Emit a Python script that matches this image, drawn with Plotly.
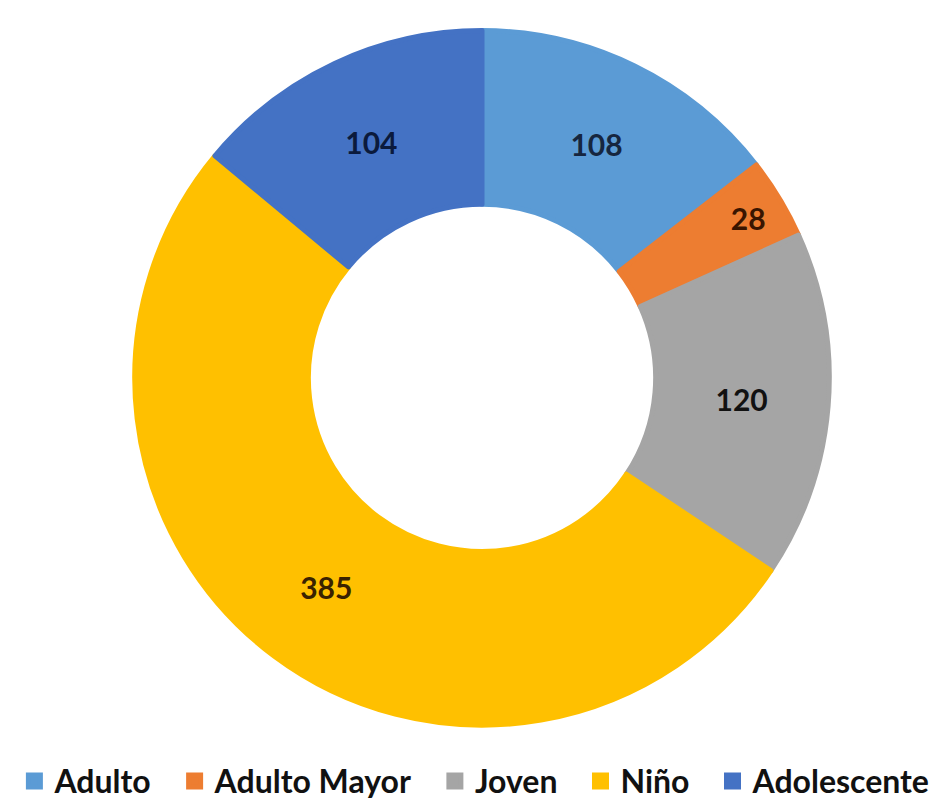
import plotly.graph_objects as go

categories = ["Adulto", "Adulto Mayor", "Joven", "Niño", "Adolescente"]
values = [108, 28, 120, 385, 104]
colors = ["#5B9BD5", "#ED7D31", "#A5A5A5", "#FFC000", "#4472C4"]
label_colors = ["#16263f", "#3a1500", "#111111", "#3a2200", "#0b1a3c"]

FONT = "Lato, 'Open Sans', sans-serif"

# legend labels padded with a little space so entries are spaced like the reference
legend_labels = [c + "\u2002\u200a" for c in categories]

fig = go.Figure(
    go.Pie(
        labels=legend_labels,
        values=values,
        hole=0.5,
        sort=False,
        direction="clockwise",
        rotation=0,
        marker=dict(colors=colors, line=dict(color=colors, width=5)),
        textinfo="value",
        textposition="inside",
        insidetextorientation="horizontal",
        textfont=dict(family=FONT, size=30, color=label_colors, weight="bold"),
        domain=dict(x=[0.1276, 0.8724], y=[0.0899, 0.9713]),
        hoverinfo="label+value",
    )
)

fig.update_layout(
    width=948,
    height=801,
    margin=dict(l=0, r=0, t=0, b=0),
    paper_bgcolor="white",
    plot_bgcolor="white",
    uniformtext=dict(minsize=30, mode="show"),
    showlegend=True,
    legend=dict(
        orientation="h",
        x=0.502,
        xanchor="center",
        y=-0.016,
        yanchor="bottom",
        font=dict(family=FONT, size=32, color="#111111", weight="bold"),
        itemwidth=30,
        traceorder="normal",
    ),
)

fig.write_html("out.html")
